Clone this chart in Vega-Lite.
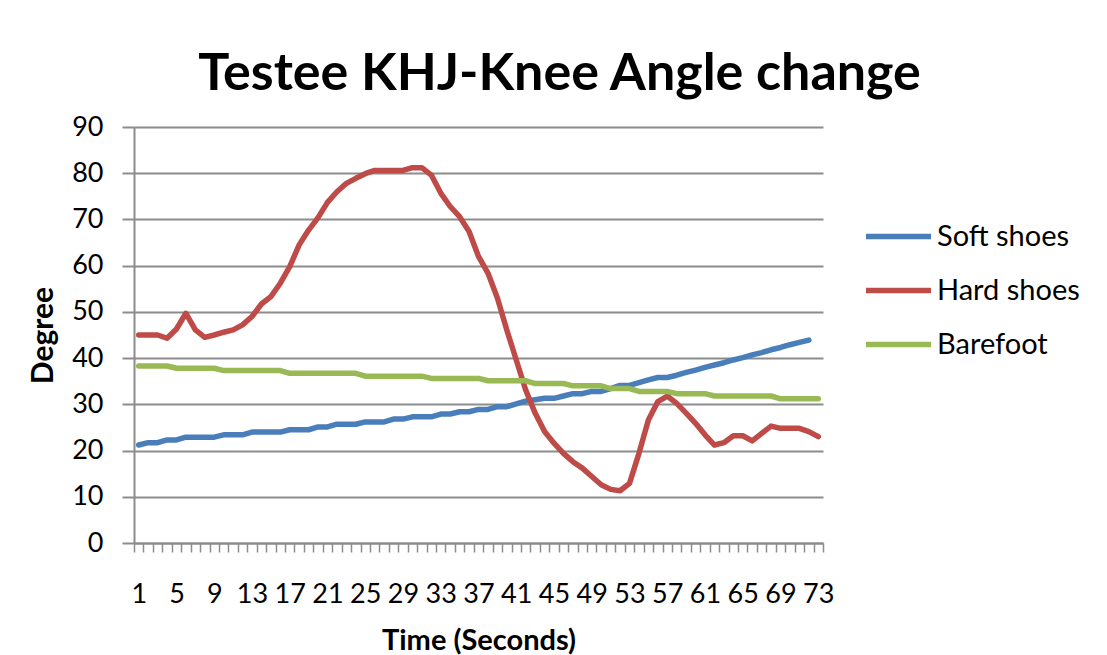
{
  "$schema": "https://vega.github.io/schema/vega-lite/v6.json",
  "width": 689,
  "height": 416,
  "autosize": {"type": "none"},
  "padding": {"left": 134, "top": 127, "right": 284, "bottom": 112},
  "background": "white",
  "title": {"text": "Testee KHJ-Knee Angle change", "font": "Lato", "fontSize": 52, "fontWeight": "bold", "color": "black", "anchor": "middle", "dx": 81, "baseline": "alphabetic", "offset": 23, "dy": 52},
  "config": {"view": {"stroke": null}},
  "data": {"values": [
    {"t":1,"s":"Soft shoes","v":21.2},{"t":2,"s":"Soft shoes","v":21.7},{"t":3,"s":"Soft shoes","v":21.7},{"t":4,"s":"Soft shoes","v":22.3},{"t":5,"s":"Soft shoes","v":22.3},{"t":6,"s":"Soft shoes","v":22.9},{"t":7,"s":"Soft shoes","v":22.9},{"t":8,"s":"Soft shoes","v":22.9},{"t":9,"s":"Soft shoes","v":22.9},{"t":10,"s":"Soft shoes","v":23.4},
    {"t":11,"s":"Soft shoes","v":23.4},{"t":12,"s":"Soft shoes","v":23.4},{"t":13,"s":"Soft shoes","v":24.0},{"t":14,"s":"Soft shoes","v":24.0},{"t":15,"s":"Soft shoes","v":24.0},{"t":16,"s":"Soft shoes","v":24.0},{"t":17,"s":"Soft shoes","v":24.5},{"t":18,"s":"Soft shoes","v":24.5},{"t":19,"s":"Soft shoes","v":24.5},{"t":20,"s":"Soft shoes","v":25.1},
    {"t":21,"s":"Soft shoes","v":25.1},{"t":22,"s":"Soft shoes","v":25.7},{"t":23,"s":"Soft shoes","v":25.7},{"t":24,"s":"Soft shoes","v":25.7},{"t":25,"s":"Soft shoes","v":26.2},{"t":26,"s":"Soft shoes","v":26.2},{"t":27,"s":"Soft shoes","v":26.2},{"t":28,"s":"Soft shoes","v":26.8},{"t":29,"s":"Soft shoes","v":26.8},{"t":30,"s":"Soft shoes","v":27.3},
    {"t":31,"s":"Soft shoes","v":27.3},{"t":32,"s":"Soft shoes","v":27.3},{"t":33,"s":"Soft shoes","v":27.9},{"t":34,"s":"Soft shoes","v":27.9},{"t":35,"s":"Soft shoes","v":28.4},{"t":36,"s":"Soft shoes","v":28.4},{"t":37,"s":"Soft shoes","v":28.9},{"t":38,"s":"Soft shoes","v":28.9},{"t":39,"s":"Soft shoes","v":29.5},{"t":40,"s":"Soft shoes","v":29.5},
    {"t":41,"s":"Soft shoes","v":30.1},{"t":42,"s":"Soft shoes","v":30.7},{"t":43,"s":"Soft shoes","v":31.0},{"t":44,"s":"Soft shoes","v":31.3},{"t":45,"s":"Soft shoes","v":31.3},{"t":46,"s":"Soft shoes","v":31.8},{"t":47,"s":"Soft shoes","v":32.3},{"t":48,"s":"Soft shoes","v":32.3},{"t":49,"s":"Soft shoes","v":32.8},{"t":50,"s":"Soft shoes","v":32.8},
    {"t":51,"s":"Soft shoes","v":33.4},{"t":52,"s":"Soft shoes","v":34.1},{"t":53,"s":"Soft shoes","v":34.1},{"t":54,"s":"Soft shoes","v":34.7},{"t":55,"s":"Soft shoes","v":35.3},{"t":56,"s":"Soft shoes","v":35.8},{"t":57,"s":"Soft shoes","v":35.8},{"t":58,"s":"Soft shoes","v":36.3},{"t":59,"s":"Soft shoes","v":36.9},{"t":60,"s":"Soft shoes","v":37.4},
    {"t":61,"s":"Soft shoes","v":38.0},{"t":62,"s":"Soft shoes","v":38.5},{"t":63,"s":"Soft shoes","v":39.0},{"t":64,"s":"Soft shoes","v":39.6},{"t":65,"s":"Soft shoes","v":40.1},{"t":66,"s":"Soft shoes","v":40.7},{"t":67,"s":"Soft shoes","v":41.2},{"t":68,"s":"Soft shoes","v":41.8},{"t":69,"s":"Soft shoes","v":42.3},{"t":70,"s":"Soft shoes","v":42.9},
    {"t":71,"s":"Soft shoes","v":43.4},{"t":72,"s":"Soft shoes","v":43.9},

    {"t":1,"s":"Hard shoes","v":45.0},{"t":2,"s":"Hard shoes","v":45.0},{"t":3,"s":"Hard shoes","v":45.0},{"t":4,"s":"Hard shoes","v":44.3},{"t":5,"s":"Hard shoes","v":46.3},{"t":6,"s":"Hard shoes","v":49.7},{"t":7,"s":"Hard shoes","v":46.1},{"t":8,"s":"Hard shoes","v":44.5},{"t":9,"s":"Hard shoes","v":45.0},{"t":10,"s":"Hard shoes","v":45.6},
    {"t":11,"s":"Hard shoes","v":46.1},{"t":12,"s":"Hard shoes","v":47.2},{"t":13,"s":"Hard shoes","v":49.0},{"t":14,"s":"Hard shoes","v":51.7},{"t":15,"s":"Hard shoes","v":53.3},{"t":16,"s":"Hard shoes","v":56.2},{"t":17,"s":"Hard shoes","v":59.8},{"t":18,"s":"Hard shoes","v":64.5},{"t":19,"s":"Hard shoes","v":67.7},{"t":20,"s":"Hard shoes","v":70.4},
    {"t":21,"s":"Hard shoes","v":73.7},{"t":22,"s":"Hard shoes","v":76.0},{"t":23,"s":"Hard shoes","v":77.8},{"t":24,"s":"Hard shoes","v":78.9},{"t":25,"s":"Hard shoes","v":79.9},{"t":26,"s":"Hard shoes","v":80.6},{"t":27,"s":"Hard shoes","v":80.6},{"t":28,"s":"Hard shoes","v":80.6},{"t":29,"s":"Hard shoes","v":80.6},{"t":30,"s":"Hard shoes","v":81.2},
    {"t":31,"s":"Hard shoes","v":81.2},{"t":32,"s":"Hard shoes","v":79.6},{"t":33,"s":"Hard shoes","v":75.7},{"t":34,"s":"Hard shoes","v":72.8},{"t":35,"s":"Hard shoes","v":70.6},{"t":36,"s":"Hard shoes","v":67.4},{"t":37,"s":"Hard shoes","v":62.0},{"t":38,"s":"Hard shoes","v":58.4},{"t":39,"s":"Hard shoes","v":53.0},{"t":40,"s":"Hard shoes","v":46.1},
    {"t":41,"s":"Hard shoes","v":39.6},{"t":42,"s":"Hard shoes","v":33.1},{"t":43,"s":"Hard shoes","v":28.1},{"t":44,"s":"Hard shoes","v":24.1},{"t":45,"s":"Hard shoes","v":21.6},{"t":46,"s":"Hard shoes","v":19.4},{"t":47,"s":"Hard shoes","v":17.6},{"t":48,"s":"Hard shoes","v":16.2},{"t":49,"s":"Hard shoes","v":14.4},{"t":50,"s":"Hard shoes","v":12.6},
    {"t":51,"s":"Hard shoes","v":11.6},{"t":52,"s":"Hard shoes","v":11.3},{"t":53,"s":"Hard shoes","v":12.9},{"t":54,"s":"Hard shoes","v":19.4},{"t":55,"s":"Hard shoes","v":26.6},{"t":56,"s":"Hard shoes","v":30.6},{"t":57,"s":"Hard shoes","v":31.8},{"t":58,"s":"Hard shoes","v":30.2},{"t":59,"s":"Hard shoes","v":28.1},{"t":60,"s":"Hard shoes","v":25.9},
    {"t":61,"s":"Hard shoes","v":23.4},{"t":62,"s":"Hard shoes","v":21.2},{"t":63,"s":"Hard shoes","v":21.7},{"t":64,"s":"Hard shoes","v":23.2},{"t":65,"s":"Hard shoes","v":23.2},{"t":66,"s":"Hard shoes","v":22.1},{"t":67,"s":"Hard shoes","v":23.7},{"t":68,"s":"Hard shoes","v":25.3},{"t":69,"s":"Hard shoes","v":24.8},{"t":70,"s":"Hard shoes","v":24.8},
    {"t":71,"s":"Hard shoes","v":24.8},{"t":72,"s":"Hard shoes","v":24.1},{"t":73,"s":"Hard shoes","v":23.0},

    {"t":1,"s":"Barefoot","v":38.3},{"t":2,"s":"Barefoot","v":38.3},{"t":3,"s":"Barefoot","v":38.3},{"t":4,"s":"Barefoot","v":38.3},{"t":5,"s":"Barefoot","v":37.8},{"t":6,"s":"Barefoot","v":37.8},{"t":7,"s":"Barefoot","v":37.8},{"t":8,"s":"Barefoot","v":37.8},{"t":9,"s":"Barefoot","v":37.8},{"t":10,"s":"Barefoot","v":37.3},
    {"t":11,"s":"Barefoot","v":37.3},{"t":12,"s":"Barefoot","v":37.3},{"t":13,"s":"Barefoot","v":37.3},{"t":14,"s":"Barefoot","v":37.3},{"t":15,"s":"Barefoot","v":37.3},{"t":16,"s":"Barefoot","v":37.3},{"t":17,"s":"Barefoot","v":36.7},{"t":18,"s":"Barefoot","v":36.7},{"t":19,"s":"Barefoot","v":36.7},{"t":20,"s":"Barefoot","v":36.7},
    {"t":21,"s":"Barefoot","v":36.7},{"t":22,"s":"Barefoot","v":36.7},{"t":23,"s":"Barefoot","v":36.7},{"t":24,"s":"Barefoot","v":36.7},{"t":25,"s":"Barefoot","v":36.1},{"t":26,"s":"Barefoot","v":36.1},{"t":27,"s":"Barefoot","v":36.1},{"t":28,"s":"Barefoot","v":36.1},{"t":29,"s":"Barefoot","v":36.1},{"t":30,"s":"Barefoot","v":36.1},
    {"t":31,"s":"Barefoot","v":36.1},{"t":32,"s":"Barefoot","v":35.6},{"t":33,"s":"Barefoot","v":35.6},{"t":34,"s":"Barefoot","v":35.6},{"t":35,"s":"Barefoot","v":35.6},{"t":36,"s":"Barefoot","v":35.6},{"t":37,"s":"Barefoot","v":35.6},{"t":38,"s":"Barefoot","v":35.1},{"t":39,"s":"Barefoot","v":35.1},{"t":40,"s":"Barefoot","v":35.1},
    {"t":41,"s":"Barefoot","v":35.1},{"t":42,"s":"Barefoot","v":35.1},{"t":43,"s":"Barefoot","v":34.5},{"t":44,"s":"Barefoot","v":34.5},{"t":45,"s":"Barefoot","v":34.5},{"t":46,"s":"Barefoot","v":34.5},{"t":47,"s":"Barefoot","v":34.0},{"t":48,"s":"Barefoot","v":34.0},{"t":49,"s":"Barefoot","v":34.0},{"t":50,"s":"Barefoot","v":34.0},
    {"t":51,"s":"Barefoot","v":33.4},{"t":52,"s":"Barefoot","v":33.4},{"t":53,"s":"Barefoot","v":33.4},{"t":54,"s":"Barefoot","v":32.8},{"t":55,"s":"Barefoot","v":32.8},{"t":56,"s":"Barefoot","v":32.8},{"t":57,"s":"Barefoot","v":32.8},{"t":58,"s":"Barefoot","v":32.3},{"t":59,"s":"Barefoot","v":32.3},{"t":60,"s":"Barefoot","v":32.3},
    {"t":61,"s":"Barefoot","v":32.3},{"t":62,"s":"Barefoot","v":31.8},{"t":63,"s":"Barefoot","v":31.8},{"t":64,"s":"Barefoot","v":31.8},{"t":65,"s":"Barefoot","v":31.8},{"t":66,"s":"Barefoot","v":31.8},{"t":67,"s":"Barefoot","v":31.8},{"t":68,"s":"Barefoot","v":31.8},{"t":69,"s":"Barefoot","v":31.2},{"t":70,"s":"Barefoot","v":31.2},
    {"t":71,"s":"Barefoot","v":31.2},{"t":72,"s":"Barefoot","v":31.2},{"t":73,"s":"Barefoot","v":31.2}
  ]},
  "mark": {"type": "line", "strokeWidth": 5.5, "strokeCap": "round", "strokeJoin": "round"},
  "encoding": {
    "x": {
      "field": "t", "type": "ordinal",
      "scale": {"type": "band", "paddingInner": 0, "paddingOuter": 0},
      "axis": {
        "tickBand": "extent", "grid": false, "labelAngle": 0,
        "labelExpr": "(datum.value - 1) % 4 == 0 ? datum.label : ''",
        "labelOverlap": false, "labelFont": "Lato", "labelFontSize": 27, "labelColor": "black",
        "labelBaseline": "alphabetic", "labelPadding": 50,
        "tickSize": 9, "tickColor": "#8c8c8c", "tickWidth": 1.5,
        "domainColor": "#8c8c8c", "domainWidth": 2,
        "title": "Time (Seconds)", "titleFont": "Lato", "titleFontSize": 29, "titleFontWeight": "bold", "titleColor": "black",
        "titleBaseline": "alphabetic", "titleY": 106
      }
    },
    "y": {
      "field": "v", "type": "quantitative",
      "scale": {"domain": [0, 90], "nice": false},
      "axis": {
        "values": [0,10,20,30,40,50,60,70,80,90],
        "grid": true, "gridColor": "#8c8c8c", "gridWidth": 2,
        "tickSize": 12, "tickColor": "#8c8c8c", "tickWidth": 2,
        "domainColor": "#8c8c8c", "domainWidth": 2,
        "labelFont": "Lato", "labelFontSize": 27, "labelColor": "black", "labelPadding": 19,
        "title": "Degree", "titleFont": "Lato", "titleFontSize": 30, "titleFontWeight": "bold", "titleColor": "black",
        "titleAngle": 270, "titleX": -91, "titleY": 208, "titleBaseline": "middle", "titleAlign": "center"
      }
    },
    "color": {
      "field": "s", "type": "nominal",
      "scale": {"domain": ["Soft shoes", "Hard shoes", "Barefoot"], "range": ["#4A7EBB", "#BE4B48", "#98B954"]},
      "legend": {
        "title": null, "orient": "none", "legendX": 729, "legendY": 74, "padding": 0,
        "symbolType": "stroke", "symbolSize": 4225, "symbolStrokeWidth": 5.5,
        "rowPadding": 3, "labelOffset": 3,
        "labelFont": "Lato", "labelFontSize": 29, "labelColor": "black"
      }
    }
  }
}
